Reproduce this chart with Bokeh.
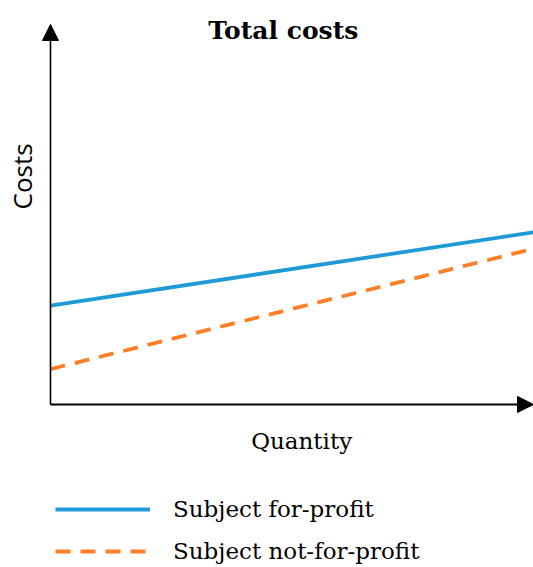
import math
from bokeh.plotting import figure
from bokeh.models import Range1d, Arrow, NormalHead, Label, Legend, LegendItem
from bokeh.embed import file_html
from bokeh.resources import INLINE

# Data
quantity = [0, 10]
for_profit = [2.6, 4.53]
not_for_profit = [0.93, 4.1]
series_names = ["Subject for-profit", "Subject not-for-profit"]
title_text = "Total costs"
x_label = "Quantity"
y_label = "Costs"

SERIF = "DejaVu Serif"

# whole canvas is the plotting frame; axes are drawn as arrows at x=0 / y=0
p = figure(width=533, height=567, output_backend="svg", toolbar_location=None,
           x_range=Range1d(-1.035, 10), y_range=Range1d(-4.29, 10.63),
           x_axis_location=None, y_axis_location=None,
           min_border=0)
p.grid.visible = False
p.outline_line_color = None
p.background_fill_color = "white"
p.border_fill_color = "white"

r1 = p.line(quantity, for_profit, line_color="#1E9BD7", line_width=3.8)
r2 = p.line(quantity, not_for_profit, line_color="#FF7F27", line_width=3.8, line_dash="15 10")

p.add_layout(Arrow(end=NormalHead(size=16, fill_color="black", line_color="black"),
                   x_start=0, y_start=0, x_end=0, y_end=10, line_width=1.6, line_color="black"))
p.add_layout(Arrow(end=NormalHead(size=16, fill_color="black", line_color="black"),
                   x_start=0, y_start=0, x_end=10, y_end=0, line_width=2, line_color="black"))

p.add_layout(Label(x=4.82, y=9.84, text=title_text, text_align="center", text_baseline="middle",
                   text_font=SERIF, text_font_style="bold", text_font_size="25px",
                   text_color="black"))
p.add_layout(Label(x=5.2, y=-0.95, text=x_label, text_align="center", text_baseline="middle",
                   text_font=SERIF, text_font_size="23px", text_color="black"))
p.add_layout(Label(x=-0.58, y=6.0, text=y_label, text_align="center", text_baseline="middle",
                   angle=math.pi / 2, text_font="Open Sans", text_font_size="26px",
                   text_color="black"))

legend = Legend(items=[LegendItem(label=series_names[0], renderers=[r1]),
                       LegendItem(label=series_names[1], renderers=[r2])],
                location=(55, 1), padding=0, margin=0, spacing=12,
                glyph_width=95, glyph_height=30, label_height=30, label_standoff=23,
                label_text_font=SERIF, label_text_font_size="23px",
                label_text_color="black",
                border_line_color=None, background_fill_alpha=0)
p.add_layout(legend, "center")

open("out.html", "w").write(file_html(p, INLINE))
